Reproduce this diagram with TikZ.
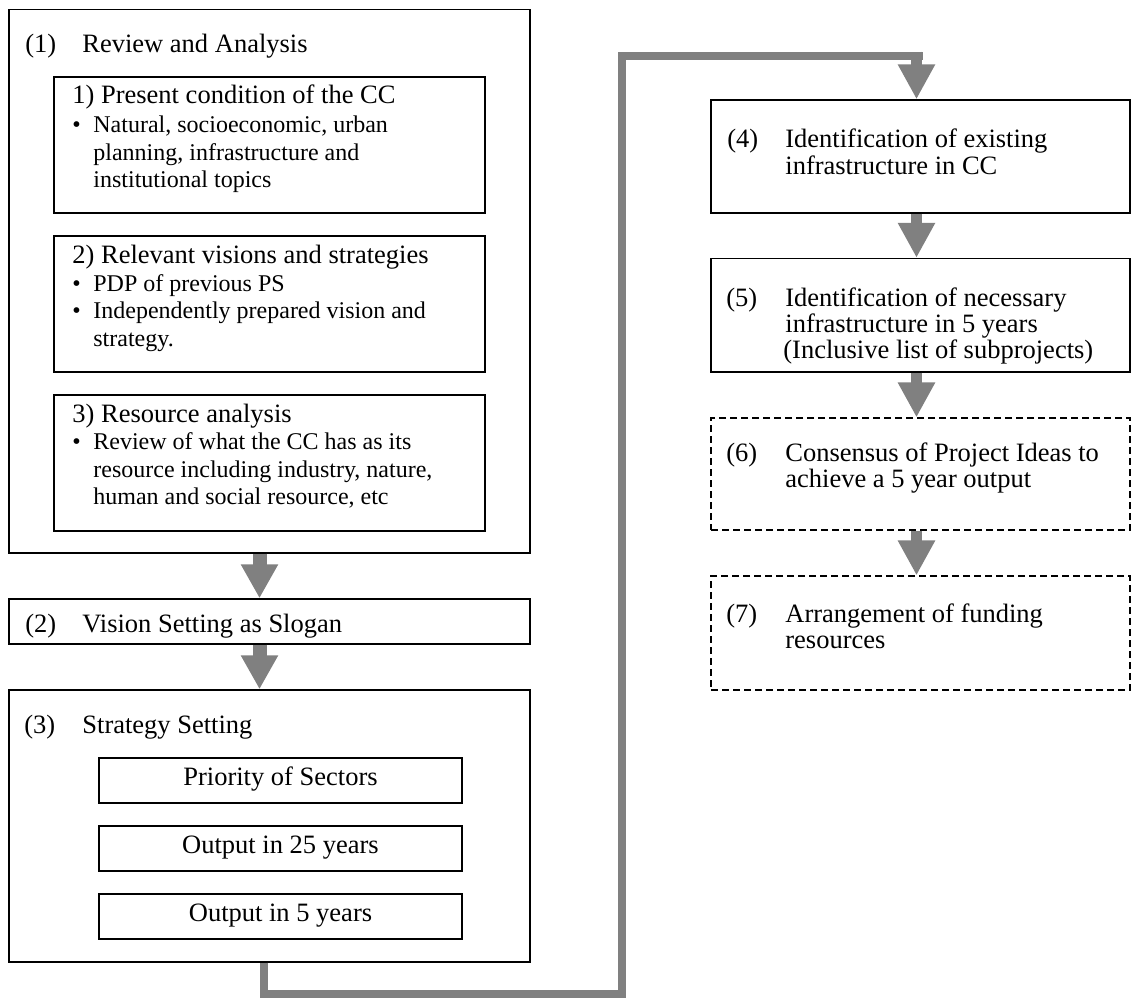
\documentclass[tikz,border=0pt]{standalone}
\usepackage{fontspec}
\setmainfont{Liberation Serif}
\usetikzlibrary{arrows.meta,fit}
\definecolor{flowgray}{RGB}{128,128,128}
% one unit = one pixel of the 1132 x 1001 canvas, y grows downwards
\tikzset{
  x=0.5pt, y=-0.5pt,
  box/.style={draw=black, line width=0.7pt, inner sep=0pt},
  dbox/.style={box, line width=0.6pt, dash pattern=on 3.5pt off 2pt},
  lbl/.style={anchor=base west, inner sep=0pt, font=\fontsize{13.25}{16}\selectfont},
  sml/.style={anchor=base west, inner sep=0pt, font=\fontsize{12}{14}\selectfont},
  cbox/.style={box, minimum width=181.5pt, minimum height=22.5pt,
    font=\fontsize{13.25}{16}\selectfont, text height=9pt, text depth=4.5pt},
  flowl/.style={draw=flowgray, line width=7pt, -{Triangle[width=17.5pt,length=17pt]}},
  flowr/.style={draw=flowgray, line width=5.5pt, -{Triangle[width=17.5pt,length=17.5pt]}},
  loopline/.style={draw=flowgray, line width=4pt, line join=miter},
}
\begin{document}
\begin{tikzpicture}
\fill[white] (0,0) rectangle (1132,1001);
\useasboundingbox (0,0) rectangle (1132,1001);

% ---------- left column ----------
\node[box, fit={(9,9.5) (530,553)}] (b1) {};
\node[lbl] (n1) at (25,53) {(1)};
\node[lbl] (t1) at (82,53) {Review and Analysis};

\node[box, fit={(54,77) (485,213)}] (s1) {};
\node[lbl] (s1h) at (72,104) {1) Present condition of the CC};
\node[sml] (s1d1) at (72,132.5) {•};
\node[sml] (s1a) at (93,132.5) {Natural, socioeconomic, urban};
\node[sml] (s1b) at (93,160) {planning, infrastructure and};
\node[sml] (s1c) at (93,187.5) {institutional topics};

\node[box, fit={(54,236) (485,372)}] (s2) {};
\node[lbl] (s2h) at (72,263) {2) Relevant visions and strategies};
\node[sml] (s2d1) at (72,291.5) {•};
\node[sml] (s2a) at (93,291.5) {PDP of previous PS};
\node[sml] (s2d2) at (72,318.5) {•};
\node[sml] (s2b) at (93,318.5) {Independently prepared vision and};
\node[sml] (s2c) at (93,346) {strategy.};

\node[box, fit={(54,395) (485,531)}] (s3) {};
\node[lbl] (s3h) at (72,422) {3) Resource analysis};
\node[sml] (s3d1) at (72,449.5) {•};
\node[sml] (s3a) at (93,449.5) {Review of what the CC has as its};
\node[sml] (s3b) at (93,477) {resource including industry, nature,};
\node[sml] (s3c) at (93,504) {human and social resource, etc};

\node[box, fit={(9,599) (530,644)}] (b2) {};
\node[lbl] (n2) at (25,632) {(2)};
\node[lbl] (t2) at (82,632) {Vision Setting as Slogan};

\node[box, fit={(9,690) (530,962)}] (b3) {};
\node[lbl] (n3) at (24,733) {(3)};
\node[lbl] (t3) at (82,733) {Strategy Setting};
\node[cbox] (c1) at (280.5,780.5) {Priority of Sectors};
\node[cbox] (c2) at (280.5,848.5) {Output in 25 years};
\node[cbox] (c3) at (280.5,916.5) {Output in 5 years};

% ---------- right column ----------
\node[box, fit={(711,100) (1130,213)}] (b4) {};
\node[lbl] (n4) at (727,148) {(4)};
\node[lbl] (t4a) at (785,148) {Identification of existing};
\node[lbl] (t4b) at (785,174) {infrastructure in CC};

\node[box, fit={(711,258.5) (1130,372)}] (b5) {};
\node[lbl] (n5) at (726,306) {(5)};
\node[lbl] (t5a) at (785,306) {Identification of necessary};
\node[lbl] (t5b) at (785,332) {infrastructure in 5 years};
\node[lbl] (t5c) at (783,358) {(Inclusive list of subprojects)};

\node[dbox, fit={(711,418) (1130,530)}] (b6) {};
\node[lbl] (n6) at (726,461) {(6)};
\node[lbl] (t6a) at (785,461) {Consensus of Project Ideas to};
\node[lbl] (t6b) at (785,487) {achieve a 5 year output};

\node[dbox, fit={(711,576) (1130,690)}] (b7) {};
\node[lbl] (n7) at (726,622) {(7)};
\node[lbl] (t7a) at (785,622) {Arrangement of funding};
\node[lbl] (t7b) at (785,648) {resources};

% ---------- connectors ----------
\coordinate (lx) at (259.5,0);
\coordinate (rx) at (916.5,0);
\draw[flowl] (b1.south -| lx) -- (b2.north -| lx);
\draw[flowl] (b2.south -| lx) -- (b3.north -| lx);

\coordinate (lx3) at (264,0);
\coordinate (lpb) at (621.5,994);
\coordinate (lpt) at (922.5,55.5);
\coordinate (rtop) at (916.5,51.5);
\draw[loopline] (b3.south -| lx3) |- (lpb) |- (lpt);
\draw[flowr] (rtop) -- (b4.north -| rx);

\draw[flowr] (b4.south -| rx) -- (b5.north -| rx);
\draw[flowr] (b5.south -| rx) -- (b6.north -| rx);
\draw[flowr] (b6.south -| rx) -- (b7.north -| rx);
\end{tikzpicture}
\end{document}
